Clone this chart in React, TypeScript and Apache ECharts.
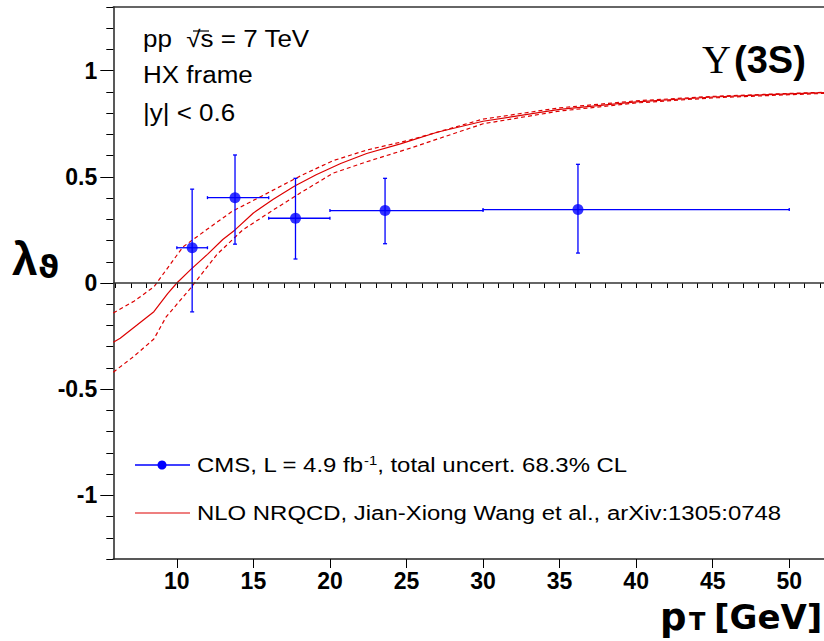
import React, { useEffect, useRef } from "react";
import * as echarts from "echarts";

// ---- data ----
const ptX = [11, 13.8, 17.75, 23.6, 36.2];
const lambdaY = [0.166, 0.402, 0.305, 0.341, 0.346];
const binLo = [10, 12, 16, 20, 30];
const binHi = [12, 16, 20, 30, 50];
const errLo = [-0.136, 0.183, 0.113, 0.185, 0.141];
const errHi = [0.442, 0.603, 0.493, 0.493, 0.559];

const nloCentral: [number, number][] = [
  [5.85, -0.279], [6.3, -0.26], [7.4, -0.198], [8.5, -0.135], [9.4, -0.05],
  [10, 0.0], [10.9, 0.063], [12, 0.135], [13, 0.205], [13.8, 0.25], [15, 0.33],
  [16.3, 0.395], [17.7, 0.457], [19.1, 0.51], [20.7, 0.563], [22.4, 0.61],
  [24.6, 0.655], [27, 0.71], [30, 0.762], [35, 0.818], [40, 0.853], [45, 0.876],
  [50, 0.891], [53, 0.898],
];
const nloUpper: [number, number][] = [
  [5.85, -0.141], [7.2, -0.086], [8.5, -0.018], [10.4, 0.17], [12, 0.254],
  [13.6, 0.337], [15.4, 0.404], [18.2, 0.509], [20.2, 0.576], [22.4, 0.626],
  [25.2, 0.673], [30, 0.772], [35, 0.825], [40, 0.858], [45, 0.879], [50, 0.893],
  [53, 0.9],
];
const nloLower: [number, number][] = [
  [5.85, -0.42], [7.2, -0.345], [8.5, -0.264], [9.3, -0.16], [10.9, -0.024],
  [12.6, 0.133], [14.3, 0.25], [16.3, 0.344], [18.2, 0.43], [20.2, 0.517],
  [22.4, 0.571], [25.2, 0.634], [30, 0.75], [35, 0.81], [40, 0.848], [45, 0.872],
  [50, 0.887], [53, 0.895],
];

const xMajor = [10, 15, 20, 25, 30, 35, 40, 45, 50];
const xMinor = [6, 7, 8, 9, 10, 11, 12, 13, 14, 15, 16, 17, 18, 19, 20, 21, 22, 23, 24, 25, 26, 27, 28, 29, 30, 31, 32, 33, 34, 35, 36, 37, 38, 39, 40, 41, 42, 43, 44, 45, 46, 47, 48, 49, 50, 51, 52];
const yMajor = [-1, -0.5, 0, 0.5, 1];
const yMinor = [-1.3, -1.2, -1.1, -1, -0.9, -0.8, -0.7, -0.6, -0.5, -0.4, -0.3, -0.2, -0.1, 0, 0.1, 0.2, 0.3, 0.4, 0.5, 0.6, 0.7, 0.8, 0.9, 1, 1.1, 1.2, 1.3];

const X_MIN = 5.85;
const X_MAX = 52.27;

const BLUE = "#0000ff";
const RED = "#dd0000";
const SANS = "Liberation Sans";

export default function App() {
  const ref = useRef<HTMLDivElement>(null);
  useEffect(() => {
    if (!ref.current) return;
    const chart = echarts.init(ref.current, undefined, { renderer: "svg" });
    const tickStyle = { color: "#000", width: 1 };
    const errData = ptX.map((x, i) => [x, lambdaY[i], binLo[i], binHi[i], errLo[i], errHi[i]]);
    const option: any = {
      animation: false,
      grid: { left: 113.3, top: 7, right: 0, bottom: 82, show: false },
      xAxis: [
        {
          type: "value", min: X_MIN, max: X_MAX, position: "bottom",
          axisLine: { show: true, onZero: false, lineStyle: { color: "#222", width: 1.5 } },
          axisTick: { show: true, customValues: xMajor, length: 9, lineStyle: tickStyle },
          axisLabel: { customValues: xMajor, fontSize: 23, fontWeight: "bold", fontFamily: SANS, color: "#000", margin: 10 },
          splitLine: { show: false },
        },
        {
          type: "value", min: X_MIN, max: X_MAX, position: "bottom",
          axisLine: { show: false },
          axisTick: { show: true, customValues: xMinor, length: 5, lineStyle: tickStyle },
          axisLabel: { show: false },
          splitLine: { show: false },
        },
        {
          type: "value", min: X_MIN, max: X_MAX, position: "top",
          axisLine: { show: true, onZero: false, lineStyle: { color: "#333", width: 1.5 } },
          axisTick: { show: false },
          axisLabel: { show: false },
          splitLine: { show: false },
        },
      ],
      yAxis: [
        {
          type: "value", min: -1.3, max: 1.3, position: "left",
          axisLine: { show: true, onZero: false, lineStyle: { color: "#222", width: 1.5 } },
          axisTick: { show: true, customValues: yMajor, length: 13, lineStyle: tickStyle },
          axisLabel: { customValues: yMajor, fontSize: 23, fontWeight: "bold", fontFamily: SANS, color: "#000", margin: 16 },
          splitLine: { show: false },
        },
        {
          type: "value", min: -1.3, max: 1.3, position: "left",
          axisLine: { show: false },
          axisTick: { show: true, customValues: yMinor, length: 7, lineStyle: tickStyle },
          axisLabel: { show: false },
          splitLine: { show: false },
        },
      ],
      series: [
        {
          type: "line", data: nloLower, symbol: "none", smooth: false,
          lineStyle: { color: RED, width: 1.2, type: [4, 3] }, z: 2,
        },
        {
          type: "line", data: nloUpper, symbol: "none", smooth: false,
          lineStyle: { color: RED, width: 1.2, type: [4, 3] }, z: 2,
        },
        {
          type: "line", data: nloCentral, symbol: "none", smooth: false,
          lineStyle: { color: RED, width: 1.2 }, z: 3,
          markLine: {
            silent: true, symbol: ["none", "none"], label: { show: false },
            lineStyle: { color: "#333", width: 1.6, type: "solid" },
            data: [{ yAxis: 0 }],
          },
        },
        {
          type: "custom", data: errData, z: 4,
          renderItem: (_p: any, api: any) => {
            const x = api.value(0), y = api.value(1);
            const l = api.coord([api.value(2), y]);
            const r = api.coord([api.value(3), y]);
            const b = api.coord([x, api.value(4)]);
            const t = api.coord([x, api.value(5)]);
            const st = { stroke: BLUE, lineWidth: 1.3 };
            const ln = (x1: number, y1: number, x2: number, y2: number) => ({
              type: "line", shape: { x1, y1, x2, y2 }, style: st,
            });
            return {
              type: "group",
              children: [
                ln(l[0], l[1], r[0], r[1]),
                ln(b[0], b[1], t[0], t[1]),
                ln(l[0], l[1] - 1.5, l[0], l[1] + 1.5),
                ln(r[0], r[1] - 1.5, r[0], r[1] + 1.5),
                ln(b[0] - 2, b[1], b[0] + 2, b[1]),
                ln(t[0] - 2, t[1], t[0] + 2, t[1]),
              ],
            };
          },
        },
        {
          type: "scatter", data: ptX.map((x, i) => [x, lambdaY[i]]),
          symbol: "circle", symbolSize: 11, itemStyle: { color: BLUE }, z: 5,
        },
      ],
      graphic: [
        { type: "text", x: 143, y: 39, scaleX: 1.13, style: { text: "pp  √s = 7 TeV", fontSize: 23, fontFamily: SANS, fill: "#000", verticalAlign: "middle" } },
        { type: "line", shape: { x1: 193, y1: 31, x2: 209, y2: 31 }, style: { stroke: "#000", lineWidth: 1.2 } },
        { type: "text", x: 143, y: 75, scaleX: 1.13, style: { text: "HX frame", fontSize: 23, fontFamily: SANS, fill: "#000", verticalAlign: "middle" } },
        { type: "text", x: 143, y: 113, scaleX: 1.13, style: { text: "|y| < 0.6", fontSize: 23, fontFamily: SANS, fill: "#000", verticalAlign: "middle" } },
        { type: "text", x: 702, y: 59, style: { text: "Υ", fontSize: 40, fontFamily: "Liberation Serif", fill: "#000", verticalAlign: "middle" } },
        { type: "text", x: 734, y: 60, style: { text: "(3S)", fontSize: 38, fontWeight: "bold", fontFamily: SANS, fill: "#000", verticalAlign: "middle" } },
        // legend
        { type: "line", shape: { x1: 135, y1: 465, x2: 190, y2: 465 }, style: { stroke: BLUE, lineWidth: 1.3 } },
        { type: "circle", shape: { cx: 162, cy: 465, r: 4.5 }, style: { fill: BLUE } },
        {
          type: "text", x: 197, y: 465, scaleX: 1.14,
          style: {
            text: "{m|CMS, L = 4.9 fb}{s|-1}{m|, total uncert. 68.3% CL}",
            fill: "#000", verticalAlign: "middle",
            rich: {
              m: { fontSize: 21, fontFamily: SANS, fill: "#000", lineHeight: 22 },
              s: { fontSize: 13, fontFamily: SANS, fill: "#000", verticalAlign: "top", lineHeight: 22 },
            },
          },
        },
        { type: "line", shape: { x1: 135, y1: 513, x2: 190, y2: 513 }, style: { stroke: RED, lineWidth: 1.2 } },
        { type: "text", x: 197, y: 513, scaleX: 1.14, style: { text: "NLO NRQCD, Jian-Xiong Wang et al., arXiv:1305:0748", fontSize: 21, fontFamily: SANS, fill: "#000", verticalAlign: "middle" } },
        // axis titles
        { type: "text", x: 12, y: 259, style: { text: "λ", fontSize: 46, fontWeight: "bold", fontFamily: SANS, fill: "#000", verticalAlign: "middle" } },
        { type: "text", x: 38, y: 267, style: { text: "ϑ", fontSize: 32, fontWeight: "bold", fontFamily: "DejaVu Sans", fill: "#000", verticalAlign: "middle" } },
        { type: "text", x: 660, y: 617, style: { text: "p", fontSize: 37, fontWeight: "bold", fontFamily: "DejaVu Sans", fill: "#000", verticalAlign: "middle" } },
        { type: "text", x: 689, y: 622, style: { text: "T", fontSize: 24, fontWeight: "bold", fontFamily: "DejaVu Sans", fill: "#000", verticalAlign: "middle" } },
        { type: "text", x: 714, y: 617, style: { text: "[GeV]", fontSize: 34, fontWeight: "bold", fontFamily: "DejaVu Sans", fill: "#000", verticalAlign: "middle" } },
      ],
    };
    chart.setOption(option);
    return () => chart.dispose();
  }, []);
  return (
    <div
      ref={ref}
      style={{ position: "fixed", left: 0, top: 0, width: 824, height: 641, background: "#fff" }}
    />
  );
}
